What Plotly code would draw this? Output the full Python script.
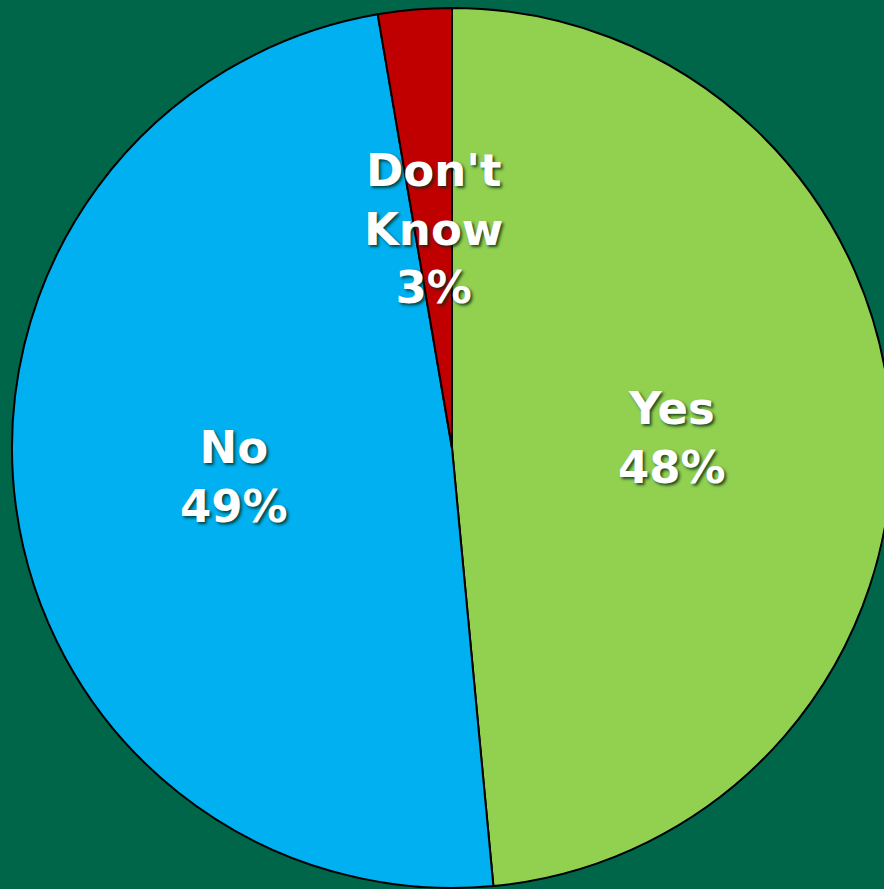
import numpy as np
import plotly.graph_objects as go

labels = ['Yes', 'No', "Don't<br>Know"]
shares = [48.5, 48.8, 2.7]
pct_text = ['48%', '49%', '3%']
colors = ['#92D050', '#00B0F0', '#C00000']

W = 904
H = 889
cx = 452
cy = 448
R = 440

fig = go.Figure(go.Pie(
    labels=labels,
    values=shares,
    sort=False,
    direction='clockwise',
    rotation=0,
    marker=dict(colors=colors, line=dict(color='black', width=2)),
    textinfo='none',
    hoverinfo='label+percent',
    showlegend=False,
    domain=dict(x=[0, 1], y=[(H - cy - R) / H, (H - cy + R) / H]),
))

# labels sit halfway out along the middle of each slice
tot = sum(shares)
start = 0
annots = []
for lab, v, p in zip(labels, shares, pct_text):
    mid = (start + v / 2) / tot * 2 * np.pi
    start += v
    px_x = cx + 0.5 * R * np.sin(mid)
    px_y = cy - 0.5 * R * np.cos(mid)
    annots.append(dict(
        x=px_x / W, y=(H - px_y) / H, xref='paper', yref='paper',
        xanchor='center', yanchor='middle',
        text=lab + '<br>' + p, showarrow=False,
        font=dict(family='DejaVu Sans', size=45, color='white', weight='bold',
                  shadow='2px 2px 3px rgba(0,40,20,0.8)'),
    ))

fig.update_layout(
    width=W, height=H,
    margin=dict(l=0, r=0, t=0, b=0),
    paper_bgcolor='#00664A',
    plot_bgcolor='#00664A',
    annotations=annots,
)
fig.write_html("out.html", config={'displayModeBar': False},
               post_script="document.body.style.margin='0';document.body.style.overflow='hidden';")
